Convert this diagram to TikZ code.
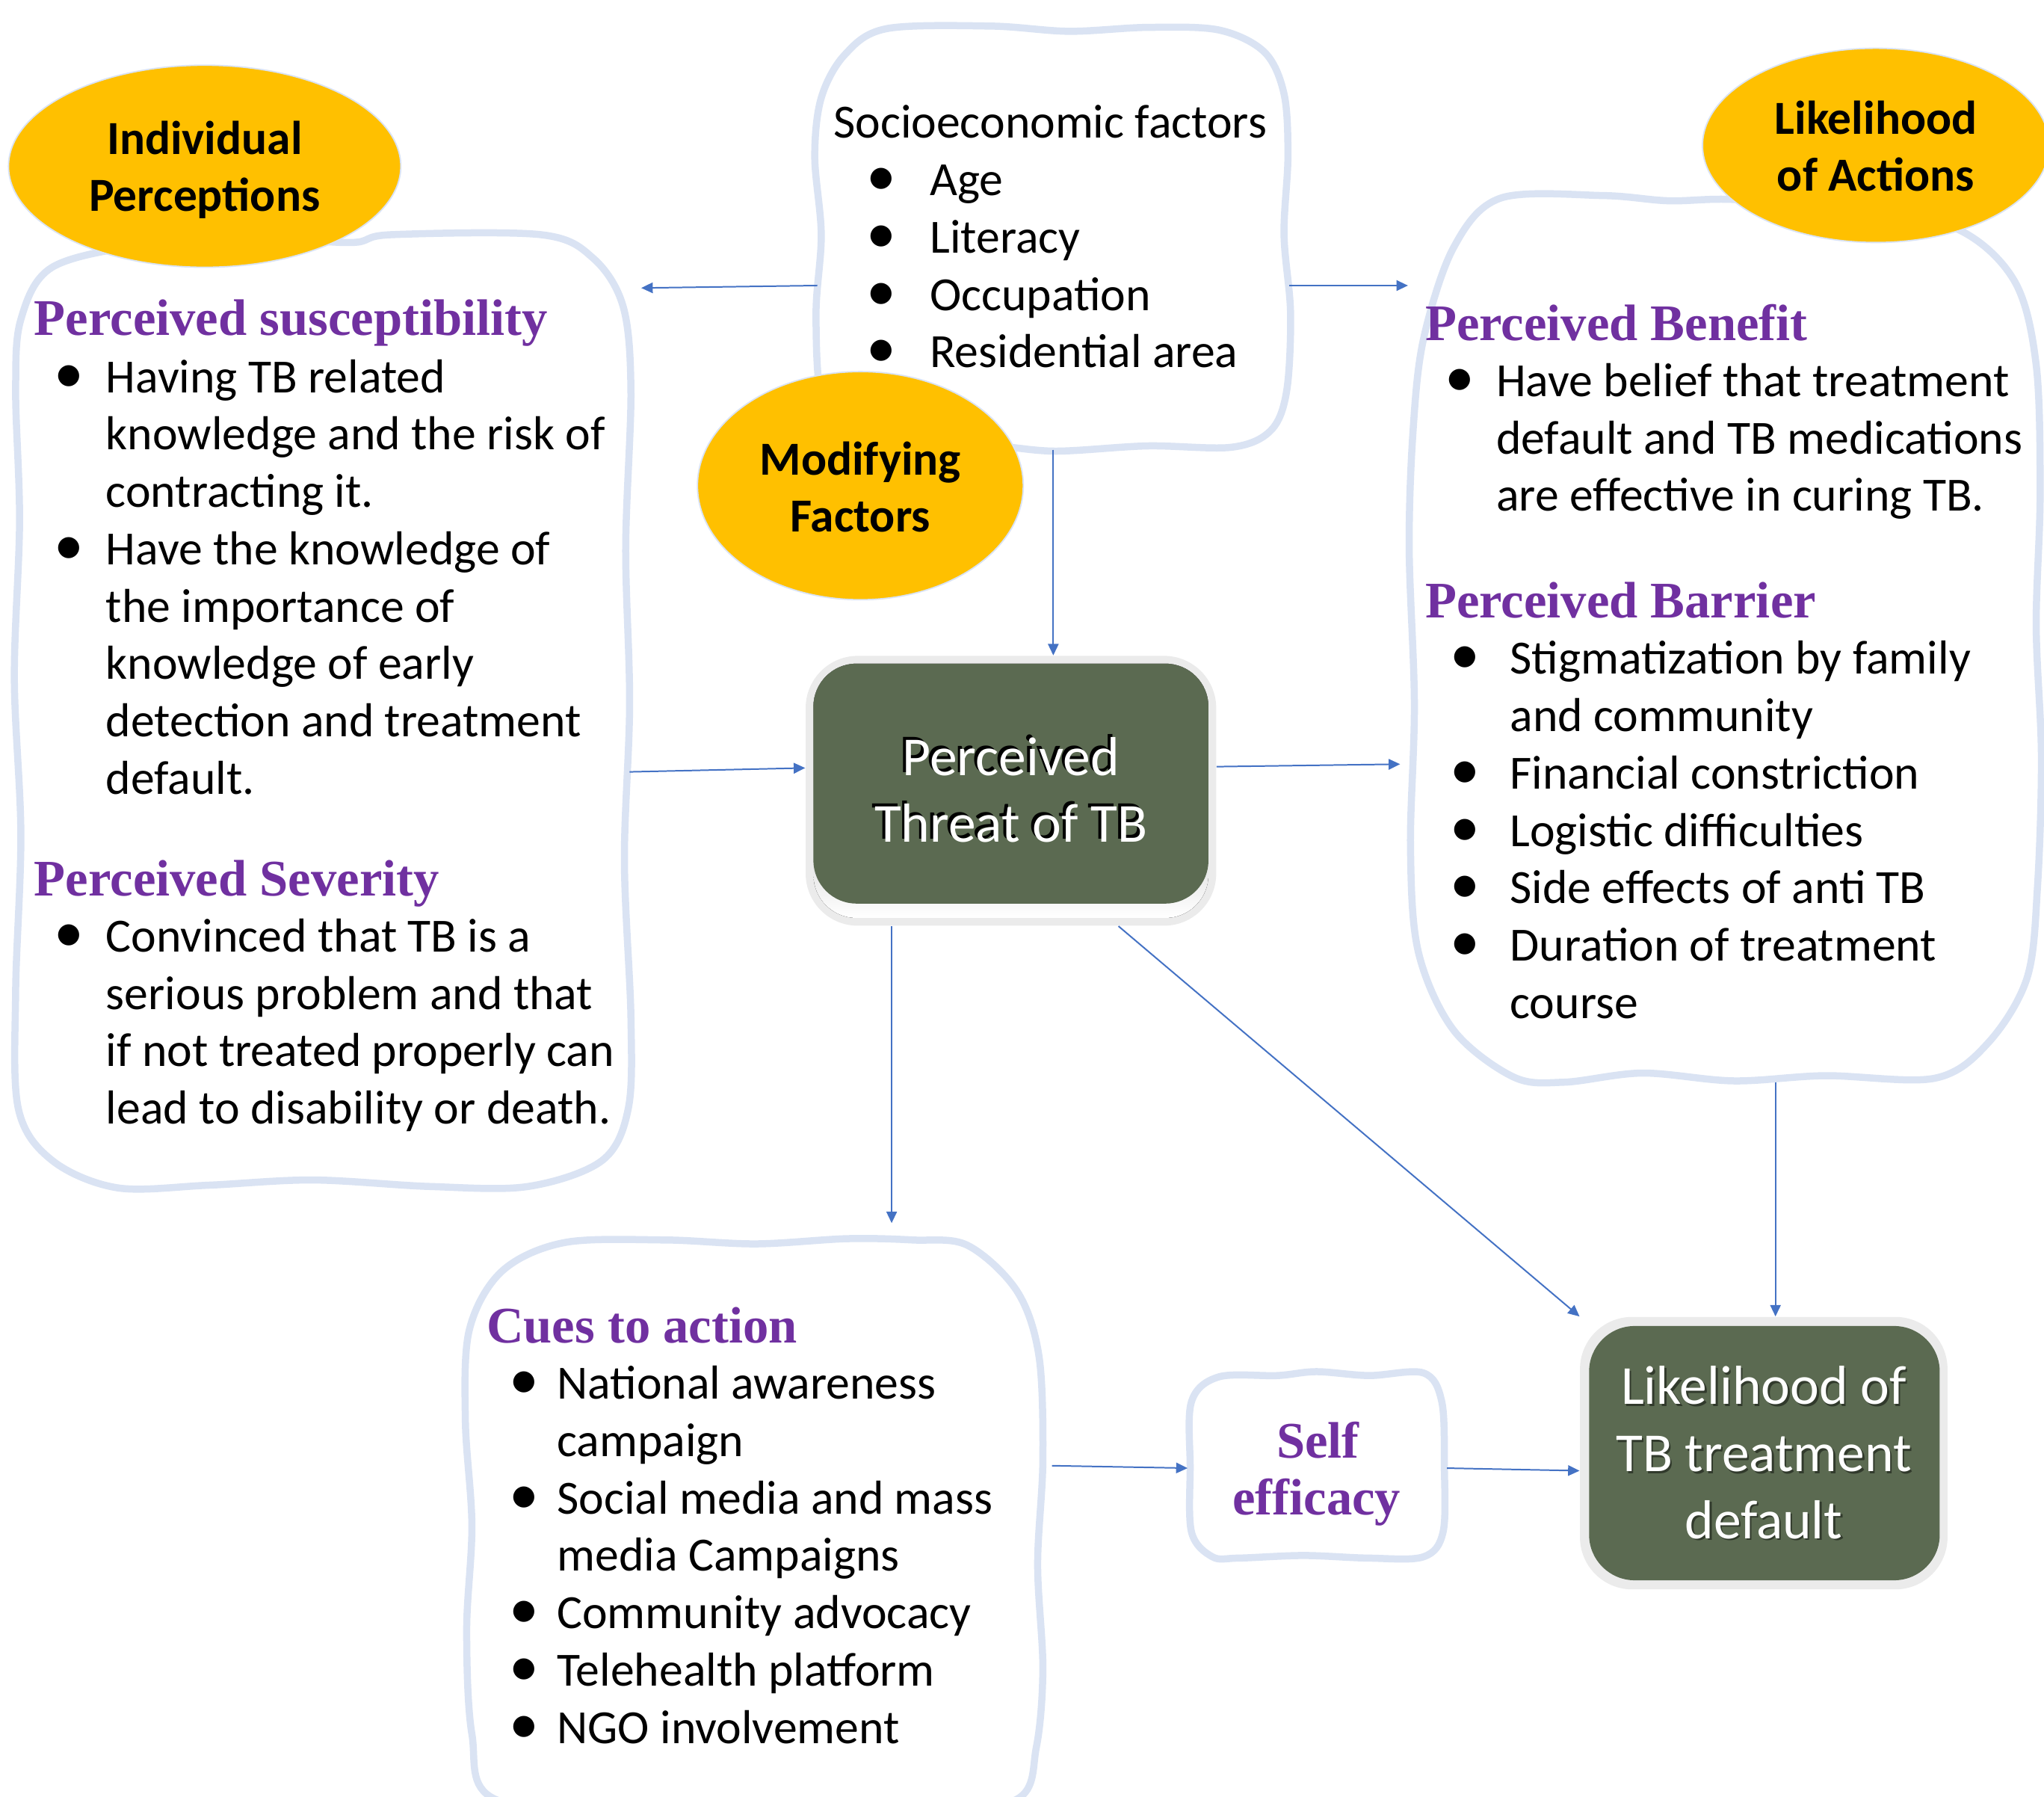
\documentclass[tikz,border=0pt]{standalone}
\usepackage{fontspec}
\setmainfont{Carlito}
\newfontfamily\headfont{Liberation Serif}
\usetikzlibrary{arrows.meta,shapes.geometric}
\definecolor{wavy}{HTML}{DAE3F3}
\definecolor{gold}{HTML}{FFC000}
\definecolor{purp}{HTML}{7030A0}
\definecolor{arrblue}{HTML}{4472C4}
\definecolor{boxgreen}{RGB}{91,106,81}
\definecolor{glow}{HTML}{EBEBEB}
\definecolor{shade}{HTML}{7A7A7A}
\begin{document}
\begin{tikzpicture}[x=0.02cm, y=-0.02cm,
  wavybox/.style={draw=wavy, line width=3.1pt, fill=white},
  frame/.style={inner sep=0, outer sep=0, draw=none},
  oval/.style={ellipse, fill=gold, draw=wavy, line width=0.6pt, inner sep=0},
  arr/.style={draw=arrblue, line width=0.65pt, -{Triangle[length=5pt,width=4.6pt]}},
  body/.style={font=\fontsize{20.8}{25}\selectfont, anchor=base west, inner sep=0},
  bul/.style={font=\fontsize{26}{30}\selectfont, anchor=base, inner sep=0},
  head/.style={font=\headfont\bfseries\fontsize{22.4}{27}\selectfont, text=purp, anchor=base west, inner sep=0},
  ovaltxt/.style={font=\bfseries\fontsize{20.7}{25}\selectfont, anchor=base, inner sep=0},
  boxtxt/.style={font=\fontsize{24}{29}\selectfont, text=white, anchor=base, inner sep=0},
  boxshadow/.style={font=\fontsize{24}{29}\selectfont, text=black, anchor=base, inner sep=0}
]
\useasboundingbox (0,0) rectangle (1568,1378);
\begin{scope}
\clip (0,0) rectangle (1568,1378);

% ---------- wavy boxes ----------
% left box
\draw[wavybox] plot[smooth cycle, tension=0.55] coordinates {
 (110,188) (200,183) (270,186) (300,180) (415,180) (455,198) (478,235)
 (484,300) (480,420) (483,540) (479,660) (484,780) (482,850)
 (462,890) (405,910) (330,910) (240,905) (160,909) (90,911)
 (40,890) (14,850) (12,760) (16,640) (11,520) (15,400) (12,300) (16,245) (40,205)};
% socioeconomic box
\draw[wavybox] plot[smooth cycle, tension=0.55] coordinates {
 (680,22) (760,20) (820,24) (880,21) (935,23) (970,40) (985,72)
 (988,120) (985,180) (990,240) (987,300) (975,330) (945,343)
 (880,342) (810,346) (760,342) (700,344) (650,335) (630,305)
 (626,240) (630,180) (625,120) (630,75) (648,42)};
% right box
\draw[wavybox] plot[smooth cycle, tension=0.55] coordinates {
 (1151,152) (1230,150) (1280,154) (1330,153) (1420,160) (1500,175) (1545,215)
 (1562,280) (1565,380) (1562,480) (1566,580) (1563,680) (1555,750)
 (1525,800) (1484,827) (1400,825) (1330,829) (1260,823) (1200,830) (1161,826)
 (1115,790) (1088,730) (1082,650) (1085,540) (1081,420) (1084,330) (1092,260) (1115,190)};
% cues box
\draw[wavybox] plot[smooth cycle, tension=0.55] coordinates {
 (433,953) (510,951) (580,954) (650,950) (700,951) (742,955) (780,990)
 (797,1040) (800,1120) (796,1200) (800,1280) (795,1340) (780,1380)
 (700,1392) (500,1392) (380,1380) (362,1330) (358,1250) (362,1170)
 (357,1090) (360,1020) (385,975)};
% self efficacy box
\draw[wavybox] plot[smooth cycle, tension=0.55] coordinates {
 (935,1056) (980,1055) (1010,1052) (1050,1055) (1092,1053) (1106,1075)
 (1108,1125) (1107,1175) (1092,1194) (1050,1195) (1000,1193) (950,1195)
 (930,1194) (914,1175) (913,1125) (914,1075)};

% invisible frames for connectors
\node[frame, minimum width=9.42cm, minimum height=14.6cm] (left) at (247.5,547) {};
\node[frame, minimum width=7.24cm, minimum height=6.52cm] (soc) at (808,182) {};
\node[frame, minimum width=9.7cm, minimum height=13.56cm] (right) at (1322.5,491) {};
\node[frame, minimum width=8.84cm, minimum height=8.6cm] (cues) at (579,1165) {};
\node[frame, minimum width=3.98cm, minimum height=2.9cm] (self) at (1010.5,1125.5) {};

% ---------- green boxes ----------
\node[rounded corners=0.8cm, fill=glow, inner sep=0, minimum width=6.3cm, minimum height=4.14cm] (threat) at (775.5,606.5) {};
\fill[shade, rounded corners=0.66cm] (624,509) rectangle (927,704);
\fill[boxgreen, rounded corners=0.66cm] (624,509) rectangle (927,693);
\node[boxshadow] (thr1s) at (773.3,592.4) {Perceived};
\node[boxtxt] (thr1) at (775.5,594.6) {Perceived};
\node[boxshadow] (thr2s) at (773.3,643.8) {Threat of TB};
\node[boxtxt] (thr2) at (775.5,646) {Threat of TB};

\node[rounded corners=0.8cm, fill=glow, inner sep=0, minimum width=5.64cm, minimum height=4.18cm] (lik) at (1353,1114.5) {};
\fill[boxgreen, rounded corners=0.7cm] (1219,1017) rectangle (1488,1212);
\node[boxshadow, opacity=0.45] (lk1s) at (1354.5,1078.5) {Likelihood of};
\node[boxtxt] (lk1) at (1353,1077) {Likelihood of};
\node[boxshadow, opacity=0.45] (lk2s) at (1354.5,1130) {TB treatment};
\node[boxtxt] (lk2) at (1353,1128.6) {TB treatment};
\node[boxshadow, opacity=0.45] (lk3s) at (1354.5,1181.5) {default};
\node[boxtxt] (lk3) at (1353,1180) {default};

% ---------- ovals ----------
\node[oval, minimum width=6.02cm, minimum height=3.1cm] (indiv) at (157,127.5) {};
\node[ovaltxt] (indiv1) at (157,118.5) {Individual};
\node[ovaltxt] (indiv2) at (157,162) {Perceptions};
\node[oval, minimum width=5cm, minimum height=3.5cm] (modif) at (660,372.5) {};
\node[ovaltxt] (modif1) at (660,364.5) {Modifying};
\node[ovaltxt] (modif2) at (660,408) {Factors};
\node[oval, minimum width=5.32cm, minimum height=2.98cm] (likact) at (1439,111.5) {};
\node[ovaltxt] (likact1) at (1439,103) {Likelihood};
\node[ovaltxt] (likact2) at (1439,146.5) {of Actions};

% ---------- left box text ----------
\node[head] (susc) at (26,257) {Perceived susceptibility};
\node[bul] (lb1) at (53,301) {•};
\node[bul] (lb2) at (53,433) {•};
\foreach \t [count=\i from 0] in {{Having TB related},{knowledge and the risk of},{contracting it.},{Have the knowledge of},{the importance of},{knowledge of early},{detection and treatment},{default.}}
  \node[body] (ls\i) at (81,{301+44*\i}) {\t};
\node[head] (sev) at (26,687) {Perceived Severity};
\node[bul] (lb3) at (53,730) {•};
\foreach \t [count=\i from 0] in {{Convinced that TB is a},{serious problem and that},{if not treated properly can},{lead to disability or death.}}
  \node[body] (lv\i) at (81,{730+44*\i}) {\t};

% ---------- socioeconomic text ----------
\node[body] (socT) at (639,106) {Socioeconomic factors};
\foreach \t [count=\i from 0] in {{Age},{Literacy},{Occupation},{Residential area}}{
  \node[bul] (sb\i) at (676,{150+44*\i}) {•};
  \node[body] (st\i) at (713,{150+44*\i}) {\t};
}

% ---------- right box text ----------
\node[head] (ben) at (1093,261) {Perceived Benefit};
\node[bul] (rb0) at (1120,304) {•};
\foreach \t [count=\i from 0] in {{Have belief that treatment},{default and TB medications},{are effective in curing TB.}}
  \node[body] (rbt\i) at (1147.5,{304+44*\i}) {\t};
\node[head] (bar) at (1093,474) {Perceived Barrier};
\foreach \yy [count=\i] in {517,605,649,693,737}
  \node[bul] (rbb\i) at (1124,\yy) {•};
\foreach \t [count=\i from 0] in {{Stigmatization by family},{and community},{Financial constriction},{Logistic difficulties},{Side effects of anti TB},{Duration of treatment},{course}}
  \node[body] (rrt\i) at (1158,{517+44*\i}) {\t};

% ---------- cues text ----------
\node[head] (cuesT) at (373,1030) {Cues to action};
\foreach \yy [count=\i] in {1073,1161,1249,1293,1337}
  \node[bul] (cb\i) at (402,\yy) {•};
\foreach \t [count=\i from 0] in {{National awareness},{campaign},{Social media and mass},{media Campaigns},{Community advocacy},{Telehealth platform},{NGO involvement}}
  \node[body] (ct\i) at (427,{1073+44*\i}) {\t};

% ---------- self efficacy text ----------
\node[head, anchor=base] (self1) at (1011,1118) {Self};
\node[head, anchor=base] (self2) at (1010,1162) {efficacy};

% ---------- connectors ----------
\draw[arr, shorten >=0.18cm] (soc.west |- 0,219) -- (left.east |- 0,221);
\draw[arr] (soc.east |- 0,219) -- (right.west |- 0,219);
\draw[arr] (soc.south) -- (soc.south |- threat.north);
\draw[arr] (left.east |- 0,592) -- (threat.west |- 0,589);
\draw[arr, shorten >=0.12cm] (threat.east |- 0,588) -- (right.west |- 0,586);
\draw[arr, shorten >=0.24cm] (threat.south -| 684,0) -- (cues.north -| 684,0);
\draw[arr] (threat.south -| 858,0) -- (lik.north west);
\draw[arr] (right.south -| 1362,0) -- (lik.north -| 1362,0);
\draw[arr, shorten <=0.14cm] (cues.east |- 0,1124) -- (self.west |- 0,1126);
\draw[arr] (self.east |- 0,1126) -- (lik.west |- 0,1128);
\end{scope}
\end{tikzpicture}
\end{document}
